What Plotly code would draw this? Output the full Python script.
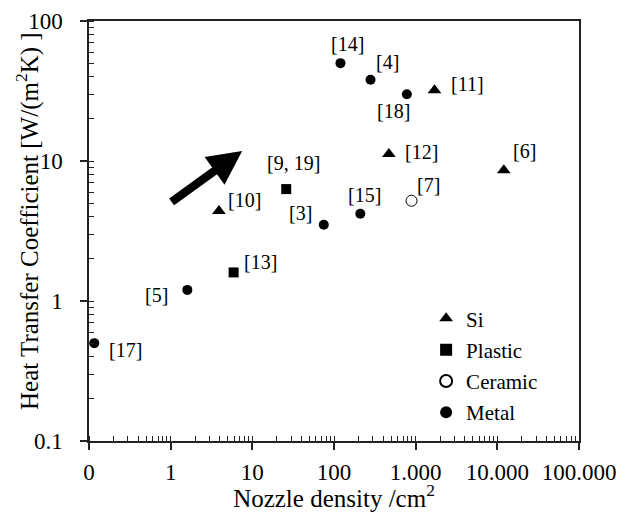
import math
import plotly.graph_objects as go

# ---- data ----
si_x = [3.9, 1700, 470, 12000]
si_y = [4.4, 32, 11.2, 8.6]
si_lbl = ["[10]", "[11]", "[12]", "[6]"]

plastic_x = [26, 5.9]
plastic_y = [6.3, 1.6]
plastic_lbl = ["[9, 19]", "[13]"]

ceramic_x = [890]
ceramic_y = [5.2]
ceramic_lbl = ["[7]"]

metal_x = [0.116, 1.6, 75, 210, 120, 280, 780]
metal_y = [0.5, 1.2, 3.5, 4.2, 50, 38, 30]
metal_lbl = ["[17]", "[5]", "[3]", "[15]", "[14]", "[4]", "[18]"]

x_tickvals = [0.1, 1, 10, 100, 1000, 10000, 100000]
x_ticktext = ["0", "1", "10", "100", "1.000", "10.000", "100.000"]
y_tickvals = [0.1, 1, 10, 100]
y_ticktext = ["0.1", "1", "10", "100"]

x_title = "Nozzle density /cm<sup>2</sup>"
y_title = "Heat Transfer Coefficient [W/(m<sup>2</sup>K) ]"

# ---- label offsets (pixels) ----
label_shift = {
    "[14]": (7, 19), "[4]": (17, 18), "[11]": (33, 6), "[18]": (-13, -17),
    "[12]": (33, 2), "[6]": (21, 19), "[7]": (17, 16), "[15]": (4, 19),
    "[3]": (-23, 12), "[9, 19]": (7, 26), "[10]": (26, 11), "[13]": (27, 10),
    "[5]": (-31, -5), "[17]": (31, -7),
}

FONT = "Liberation Serif"

fig = go.Figure()
series = [
    ("Si", si_x, si_y, si_lbl, dict(symbol="triangle-up", size=12, color="black")),
    ("Plastic", plastic_x, plastic_y, plastic_lbl, dict(symbol="square", size=10, color="black")),
    ("Ceramic", ceramic_x, ceramic_y, ceramic_lbl,
     dict(symbol="circle-open", size=11, color="black", line=dict(width=1, color="black"))),
    ("Metal", metal_x, metal_y, metal_lbl, dict(symbol="circle", size=10, color="black")),
]
annotations = []
for i, (name, xs, ys, lbls, mk) in enumerate(series):
    fig.add_trace(go.Scatter(x=xs, y=ys, mode="markers", name=name, marker=mk,
                             legendgroup=f"g{i}"))
    for xv, yv, lb in zip(xs, ys, lbls):
        dx, dy = label_shift[lb]
        annotations.append(dict(x=math.log10(xv), y=math.log10(yv), xref="x", yref="y",
                                text=lb, showarrow=False, xshift=dx, yshift=dy,
                                font=dict(family=FONT, size=20, color="black")))

# thick arrow (decoration)
annotations.append(dict(x=math.log10(7.5), y=math.log10(11.8), xref="x", yref="y",
                        ax=-72, ay=52, axref="pixel", ayref="pixel", text="",
                        showarrow=True, arrowhead=2, arrowsize=0.8, arrowwidth=8.5,
                        arrowcolor="black"))

# y-axis title placed as rotated text
annotations.append(dict(x=0, y=0.5, xref="paper", yref="paper", xanchor="center",
                        yanchor="middle", xshift=-62, yshift=10, textangle=-90,
                        text=y_title, showarrow=False,
                        font=dict(family=FONT, size=25, color="black")))

axis_common = dict(showline=True, linecolor="#222", linewidth=1.5, mirror=True,
                   ticks="outside", ticklen=7, tickcolor="#222", tickwidth=1.5,
                   showgrid=False, zeroline=False, automargin=False,
                   tickfont=dict(family=FONT, size=23, color="black"),
                   minor=dict(ticks="inside", ticklen=5, tickcolor="#222", tickwidth=1,
                              dtick="D1", showgrid=False))

fig.update_layout(
    width=632, height=512,
    margin=dict(l=89, r=53, t=21, b=71),
    paper_bgcolor="white", plot_bgcolor="white",
    font=dict(family=FONT, size=20, color="black"),
    xaxis=dict(type="log", range=[-1, 5], tickvals=x_tickvals, ticktext=x_ticktext,
               ticklabelstandoff=3,
               title=dict(text=x_title, font=dict(family=FONT, size=25), standoff=7),
               **axis_common),
    yaxis=dict(type="log", range=[-1, 2], tickvals=y_tickvals, ticktext=y_ticktext,
               ticklabelstandoff=13,
               **axis_common),
    legend=dict(x=0.688, y=0.34, xanchor="left", yanchor="top", bgcolor="rgba(0,0,0,0)",
                font=dict(family=FONT, size=21, color="black"),
                traceorder="grouped", tracegroupgap=1, itemsizing="constant"),
    showlegend=True,
    annotations=annotations,
)

fig.write_html("out.html")
